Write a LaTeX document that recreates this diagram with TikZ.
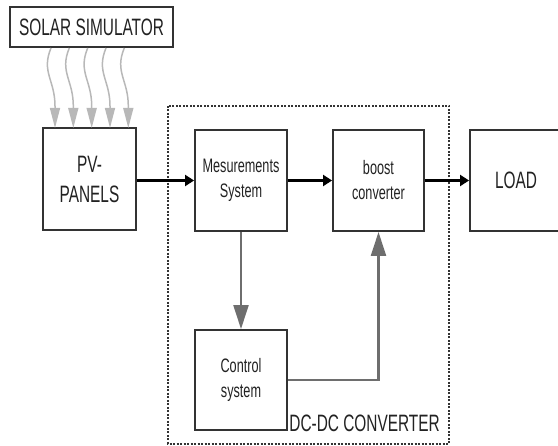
\documentclass[tikz,border=0pt]{standalone}
\usepackage{fontspec}
\setmainfont{Liberation Sans}[FakeStretch=0.65]
\usetikzlibrary{arrows.meta}
\definecolor{boxline}{HTML}{333333}
\definecolor{txt}{HTML}{222222}
\definecolor{grayarrow}{HTML}{6E6E6E}
\definecolor{lightarrow}{HTML}{B8B8B8}
\tikzset{
  blockbox/.style={draw=boxline, line width=1.9pt, fill=white, inner sep=0pt, align=center, text=txt},
  bigtext/.style={font=\fontsize{23.7}{30}\selectfont},
  smalltext/.style={font=\fontsize{19.5}{25}\selectfont},
  blackarrow/.style={draw=black, line width=2.2pt, -{Triangle[length=9pt,width=11pt]}},
  grayflow/.style={draw=grayarrow, line width=2.2pt, -{Triangle[length=24pt,width=15pt]}},
  lightflow/.style={draw=lightarrow, line width=1.5pt, -{Triangle[length=20pt,width=10pt]}},
  dcbox/.style={draw=boxline, line width=1.2pt, dash pattern=on 2pt off 1.5pt}
}
\begin{document}
\begin{tikzpicture}[x=1pt,y=-1pt]
\useasboundingbox (0,0) rectangle (558,446);
\clip (0,0) rectangle (558,446);
% dashed DC-DC converter frame
\draw[dcbox] (168,106) rectangle (449,444);
\node[text=txt, font=\fontsize{23.7}{28}\selectfont, inner sep=0pt, anchor=base east] (dclabel) at (440,432) {DC-DC CONVERTER};
% blocks
\node[blockbox, bigtext, minimum width=163pt, minimum height=40pt] (sim) at (91.5,27) {SOLAR SIMULATOR};
\node[blockbox, bigtext, minimum width=93pt, minimum height=102pt] (pv) at (89.5,179) {PV-\\PANELS};
\node[blockbox, smalltext, minimum width=92pt, minimum height=101pt] (meas) at (241,180.5) {Mesurements\\System};
\node[blockbox, smalltext, minimum width=91pt, minimum height=101pt] (boost) at (378.5,180.5) {boost\\converter};
\node[blockbox, minimum width=120pt, minimum height=101pt] (load) at (530,180.5) {};
\node[text=txt, bigtext, inner sep=0pt] (loadtxt) at (516,180) {LOAD};
\node[blockbox, smalltext, minimum width=92pt, minimum height=100pt] (ctrl) at (241,380) {Control\\system};
% light wavy arrows from the simulator
\foreach \i/\xx in {1/55,2/73.3,3/91.7,4/110,5/128.3}{
  \coordinate (start\i) at (\xx-4,48);
  \coordinate (tip\i) at (\xx,128);
  \draw[lightflow] (start\i) .. controls (\xx-14,72) and (\xx,80) .. (\xx,106) -- (tip\i);
}
% main flow
\draw[blackarrow] (pv.east |- meas.west) -- (meas.west);
\draw[blackarrow] (meas.east) -- (boost.west);
\draw[blackarrow] (boost.east) -- (boost.east -| load.west);
% control loop
\draw[grayflow] (meas.south) -- (ctrl.north);
\draw[grayflow] (ctrl.east) -| (boost.south);
\end{tikzpicture}
\end{document}
